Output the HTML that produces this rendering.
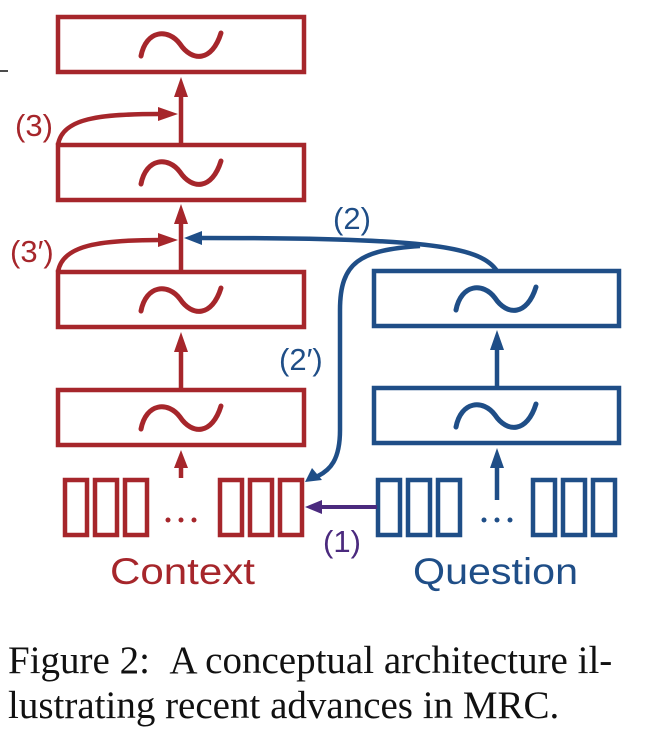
<!DOCTYPE html>
<html><head><style>
body{margin:0;background:#fff;width:656px;height:736px;overflow:hidden;position:relative}
.cap{position:absolute;left:8px;font-family:"Liberation Serif",serif;font-size:39px;color:#111;white-space:nowrap}
</style></head><body>
<svg width="656" height="600" style="position:absolute;left:0;top:0" font-family="Liberation Sans, sans-serif">
<line x1="0" y1="71" x2="8" y2="71" stroke="#111" stroke-width="1.5"/>
<g fill="none" stroke="#A6262B" stroke-width="4.5">
<rect x="58" y="17" width="246" height="55"/>
<rect x="58" y="145" width="246" height="55"/>
<rect x="58" y="272" width="246" height="55"/>
<rect x="58" y="390" width="246" height="55"/>
<rect x="65" y="480" width="22" height="55"/><rect x="95" y="480" width="22" height="55"/><rect x="125" y="480" width="22" height="55"/>
<rect x="220" y="480" width="22" height="55"/><rect x="250" y="480" width="22" height="55"/><rect x="280" y="480" width="22" height="55"/>
<line x1="181" y1="145" x2="181" y2="95"/>
<line x1="181" y1="272" x2="181" y2="222"/>
<line x1="181" y1="390" x2="181" y2="350"/>
<line x1="181" y1="478" x2="181" y2="466"/>
<path d="M58,145 C62,118 100,114 160,114"/>
<path d="M58,272 C62,245 100,240 160,240"/>
</g>
<g fill="#A6262B">
<path d="M174,97 L181,77 L188,97z"/><path d="M174,224 L181,204 L188,224z"/><path d="M174,352 L181,332 L188,352z"/><path d="M174,468 L181,450 L188,468z"/>
<path d="M158,107 L178,114 L158,121z"/><path d="M158,233 L178,240 L158,247z"/>
<text x="15" y="136" font-size="31">(3)</text>
<text x="10" y="262" font-size="31">(3′)</text>
<text x="110" y="584" font-size="37" textLength="145" lengthAdjust="spacingAndGlyphs">Context</text>
<circle cx="168" cy="520" r="2.5"/><circle cx="181" cy="520" r="2.5"/><circle cx="194" cy="520" r="2.5"/>
</g>
<g fill="none" stroke="#A6262B" stroke-width="5" stroke-linecap="round">
<path d="M141,56 C146,30 168,28 180,44 C192,62 212,62 221,33"/>
<path d="M141,184 C146,158 168,156 180,172 C192,190 212,190 221,161"/>
<path d="M141,311 C146,285 168,283 180,299 C192,317 212,317 221,288"/>
<path d="M141,429 C146,403 168,401 180,417 C192,435 212,435 221,406"/>
</g>
<g fill="none" stroke="#1F4E87" stroke-width="4.5">
<rect x="374" y="271" width="245" height="55"/>
<rect x="374" y="388" width="245" height="55"/>
<rect x="378" y="480" width="22" height="55"/><rect x="408" y="480" width="22" height="55"/><rect x="438" y="480" width="22" height="55"/>
<rect x="533" y="480" width="22" height="55"/><rect x="563" y="480" width="22" height="55"/><rect x="593" y="480" width="22" height="55"/>
<line x1="497" y1="388" x2="497" y2="348"/>
<line x1="497" y1="500" x2="497" y2="466"/>
<path d="M497,271 C480,245 420,238 200,238"/>
<path d="M420,246 C360,250 340,262 340,310 L340,430 C340,460 330,470 318,476"/>
</g>
<g fill="none" stroke="#1F4E87" stroke-width="5" stroke-linecap="round">
<path d="M456,310 C461,284 483,282 495,298 C507,316 527,316 536,287"/>
<path d="M456,427 C461,401 483,399 495,415 C507,433 527,433 536,404"/>
</g>
<g fill="#1F4E87">
<path d="M490,350 L497,330 L504,350z"/><path d="M490,468 L497,448 L504,468z"/>
<path d="M202,231 L184,238 L202,245z"/>
<path d="M312,468 L305,482 L322,480z"/>
<text x="333" y="229" font-size="31">(2)</text>
<text x="279" y="370" font-size="31">(2′)</text>
<text x="413" y="584" font-size="37" textLength="165" lengthAdjust="spacingAndGlyphs">Question</text>
<circle cx="484" cy="520" r="2.5"/><circle cx="497" cy="520" r="2.5"/><circle cx="510" cy="520" r="2.5"/>
</g>
<line x1="377" y1="507" x2="320" y2="507" stroke="#4B2A7E" stroke-width="4"/>
<path d="M322,500 L305,507 L322,514z" fill="#4B2A7E"/>
<text x="323" y="552" font-size="31" fill="#4B2A7E">(1)</text>
</svg>
<div class="cap" style="top:638px">Figure 2: &nbsp;A conceptual architecture il-</div>
<div class="cap" style="top:683px">lustrating recent advances in MRC.</div>
</body></html>
